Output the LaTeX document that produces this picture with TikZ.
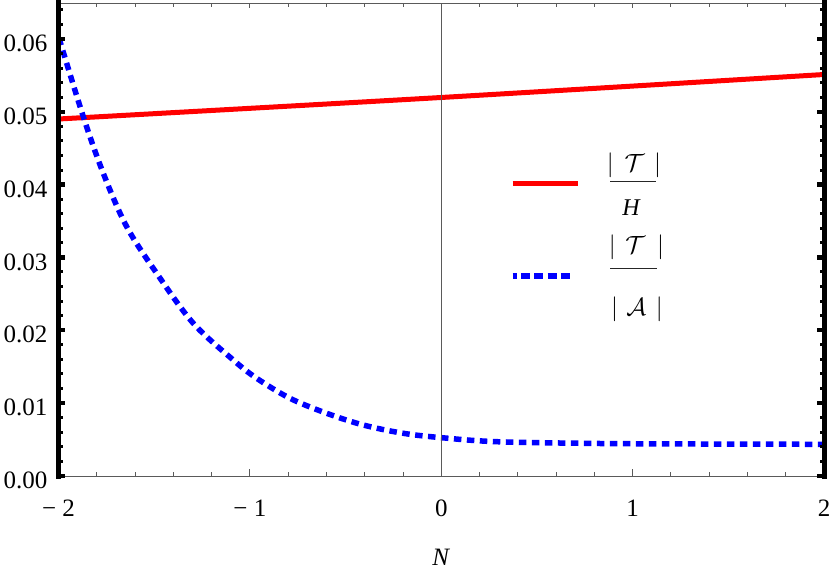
\documentclass[tikz,border=0pt]{standalone}
\usepackage{fontspec}
\setmainfont{Liberation Serif}
\definecolor{pred}{RGB}{255,0,0}
\definecolor{pblue}{RGB}{0,0,255}
\definecolor{framegray}{RGB}{90,90,90}
\begin{document}
\begin{tikzpicture}[x=1pt,y=-1pt,
  redcurve/.style={draw=pred, line width=5pt},
  bluecurve/.style={draw=pblue, line width=5.5pt, dash pattern=on 7.5pt off 5.5pt},
  thinframe/.style={draw=framegray, line width=1pt},
  thickside/.style={draw=black, line width=5pt, line cap=rect},
  majtickv/.style={draw=black, line width=4.5pt},
  mintickv/.style={draw=black, line width=3pt},
  tickh/.style={draw=framegray, line width=1pt},
  ticklab/.style={inner sep=0pt, font=\fontsize{25}{30}\selectfont},
  leglab/.style={inner sep=0pt, font=\fontsize{24}{28}\selectfont},
  fracbar/.style={draw=black!85, line width=1.1pt}
]
\useasboundingbox (0,0) rectangle (830,569);

% curves
\draw[redcurve] plot[smooth] coordinates {(58.5,119) (441,97.5) (824,74.5)};
\draw[bluecurve] plot[smooth, tension=0.55] coordinates {
 (59,38) (83.3,116.7) (103.3,173.3) (126.7,226.7) (156.7,273.3) (193.3,323.3)
 (233.3,360) (256.7,378.3) (290,398.3) (326.7,413.3) (363.3,425) (403.3,433.3)
 (441.7,437.7) (496.7,441.7) (600,443.5) (700,444) (824,444.3)};

% axis at N=0
\draw[thinframe] (441.3,3.3) -- (441.3,476);

% frame
\draw[thinframe] (58.5,3.3) -- (824.1,3.3);
\draw[thinframe] (58.5,476) -- (824.1,476);
\foreach \i in {1,2,3,4,6,7,8,9,11,12,13,14,16,17,18,19} {
  \draw[tickh] (58.5+38.28*\i,3.3) -- ++(0,3.5);
  \draw[tickh] (58.5+38.28*\i,476) -- ++(0,-4.5);
}
\foreach \i in {5,10,15} {
  \draw[tickh] (58.5+38.28*\i,3.3) -- ++(0,5);
  \draw[tickh] (58.5+38.28*\i,476) -- ++(0,-7.5);
}
\draw[thickside] (58.5,1) -- (58.5,476.5);
\draw[thickside] (824.2,1) -- (824.2,476.5);
\foreach \k in {1,2,3,4,6,7,8,9,11,12,13,14,16,17,18,19,21,22,23,24,26,27,28,29,31,32} {
  \draw[mintickv] (58.5,475.8-14.56*\k) -- ++(4.5,0);
  \draw[mintickv] (824.2,475.8-14.56*\k) -- ++(-4.5,0);
}
\foreach \k in {0,5,10,15,20,25,30} {
  \draw[majtickv] (58.5,475.8-14.56*\k) -- ++(6.5,0);
  \draw[majtickv] (824.2,475.8-14.56*\k) -- ++(-7.5,0);
}

% y tick labels
\foreach \k/\t in {0/0.00,1/0.01,2/0.02,3/0.03,4/0.04,5/0.05,6/0.06} {
  \node[ticklab, anchor=east] (yl\k) at (47.5,475.8-72.8*\k+4.5) {\t};
}
% x tick labels
\node[ticklab] (xlm2) at (58.5,508.5) {−\ 2};
\node[ticklab] (xlm1) at (249.9,508.5) {−\ 1};
\node[ticklab] (xl0) at (441.3,508.5) {0};
\node[ticklab] (xl1) at (632.7,508.5) {1};
\node[ticklab] (xl2) at (824.1,508.5) {2};
\node[ticklab] (xlab) at (441.3,557) {\textit{N}};

% legend
\coordinate (lr1) at (512.7,183.8);
\coordinate (lr2) at (578.3,183.8);
\draw[redcurve] (lr1) -- (lr2);
\coordinate (lb1) at (512.7,276);
\coordinate (lb2) at (570.7,276);
\draw[bluecurve, dash pattern=on 9pt off 4.3pt, dash phase=5pt] (lb1) -- (lb2);

\node[leglab] (n1) at (634,165) {$|\hspace{0.45em}\mathcal{T}\hspace{0.4em}|$};
\draw[fracbar] (610,181.7) -- (656,181.7);
\node[leglab] (d1) at (631.5,207.5) {\textit{H}};
\node[leglab] (n2) at (636.5,247.5) {$|\hspace{0.4em}\mathcal{T}\hspace{0.5em}|$};
\draw[fracbar] (610,268.3) -- (657,268.3);
\node[leglab] (d2) at (637,309) {$|\hspace{0.35em}\mathcal{A}\hspace{0.4em}|$};
\end{tikzpicture}
\end{document}
